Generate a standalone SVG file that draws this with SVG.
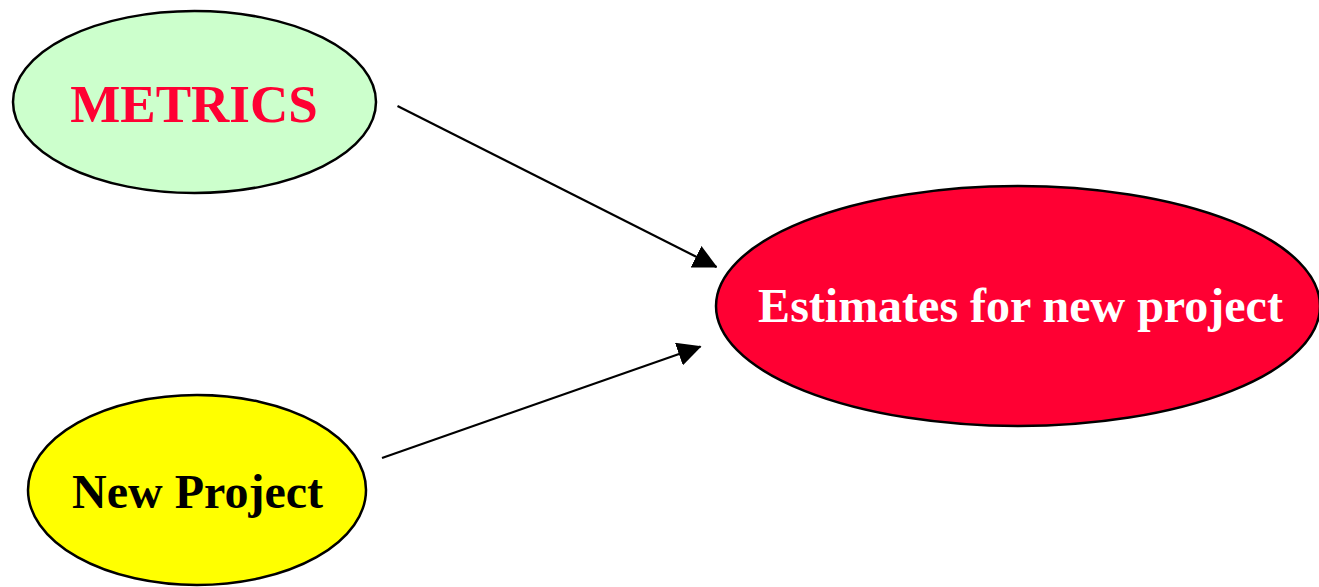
<svg xmlns="http://www.w3.org/2000/svg" width="1319" height="587" viewBox="0 0 1319 587">
  <style>
    .node { stroke: #000; stroke-width: 2.5; }
    .label { font-family: "Liberation Serif", "Times New Roman", serif; font-weight: bold; text-anchor: middle; }
    .edge { stroke: #000; stroke-width: 2.2; fill: none; marker-end: url(#arrow); }
  </style>
  <defs>
    <marker id="arrow" markerUnits="userSpaceOnUse" markerWidth="24" markerHeight="24" viewBox="0 0 22 22" refX="21" refY="11" orient="auto">
      <path d="M0,0 L22,11 L0,22 Z" fill="#000"/>
    </marker>
  </defs>
  <rect width="1319" height="587" fill="#fff"/>

  <g id="connectors">
    <line class="edge" x1="397.5" y1="106" x2="716.5" y2="267"/>
    <line class="edge" x1="382" y1="458" x2="700.5" y2="346.5"/>
  </g>

  <g id="metrics">
    <ellipse class="node" cx="194.5" cy="102" rx="181.5" ry="91" fill="#CCFFCC"/>
    <text class="label" x="194" y="122" font-size="53" fill="#FF0033">METRICS</text>
  </g>

  <g id="new-project">
    <ellipse class="node" cx="197" cy="490" rx="169" ry="95" fill="#FFFF00"/>
    <text class="label" x="197.5" y="508" font-size="48" fill="#000">New Project</text>
  </g>

  <g id="estimates">
    <ellipse class="node" cx="1018" cy="306" rx="302" ry="120" fill="#FF0033"/>
    <text class="label" x="1020.5" y="322" font-size="48" fill="#fff">Estimates for new project</text>
  </g>
</svg>
